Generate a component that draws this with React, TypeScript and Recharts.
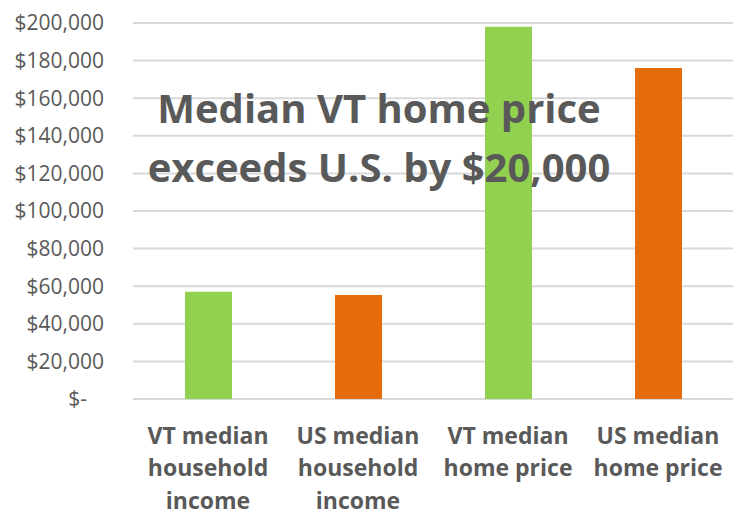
import { Bar, BarChart, CartesianGrid, Cell, XAxis, YAxis } from "recharts"

const categories = [
    "VT median household income",
    "US median household income",
    "VT median home price",
    "US median home price",
]

const categoryLines = [
    ["VT median", "household", "income"],
    ["US median", "household", "income"],
    ["VT median", "home price"],
    ["US median", "home price"],
]

const values = [56990, 55322, 198000, 176000]

const yTicks = [0, 20000, 40000, 60000, 80000, 100000, 120000, 140000, 160000, 180000, 200000]

const titleLines = ["Median VT home price", "exceeds U.S. by $20,000"]

const barColors = ["#92D050", "#E46C0A", "#92D050", "#E46C0A"]

const data = categories.map((name, i) => ({ name, value: values[i] }))

const textColor = "#595959"

function formatMoney(value: number) {
    if (value === 0) return "$-"
    return "$" + value.toLocaleString("en-US")
}

function YTick(props: any) {
    const { x, y, payload } = props
    const isZero = payload.value === 0
    return (
        <text
            x={isZero ? x - 17 : x}
            y={y}
            dy="0.355em"
            textAnchor="end"
            fill={textColor}
            fontFamily="'Open Sans', sans-serif"
            fontSize={21}
        >
            {formatMoney(payload.value)}
        </text>
    )
}

function XTick(props: any) {
    const { x, y, index } = props
    const lines = categoryLines[index] || []
    return (
        <text
            x={x}
            y={y}
            textAnchor="middle"
            fill={textColor}
            fontFamily="'Open Sans', sans-serif"
            fontWeight="bold"
            fontSize={23}
        >
            {lines.map((line, i) => (
                <tspan key={i} x={x} y={y + 36.5 + i * 32.5}>
                    {line}
                </tspan>
            ))}
        </text>
    )
}

export default function App() {
    return (
        <div style={{ position: "absolute", left: 0, top: 0, width: 733, height: 514, background: "#fff" }}>
            <BarChart
                width={733}
                height={514}
                data={data}
                margin={{ top: 23, right: 0, bottom: 0, left: 0 }}
            >
                <CartesianGrid vertical={false} stroke="#d9d9d9" strokeWidth={2} />
                <XAxis
                    dataKey="name"
                    axisLine={false}
                    tickLine={false}
                    interval={0}
                    height={115}
                    tick={<XTick />}
                />
                <YAxis
                    width={133}
                    domain={[0, 200000]}
                    ticks={yTicks}
                    axisLine={false}
                    tickLine={false}
                    tickMargin={23}
                    tick={<YTick />}
                />
                <Bar dataKey="value" barSize={47} isAnimationActive={false}>
                    {data.map((_, i) => (
                        <Cell key={i} fill={barColors[i]} />
                    ))}
                </Bar>
            </BarChart>
            {/* chart title overlays the bars, like the text box in the original */}
            <svg
                width={733}
                height={514}
                style={{ position: "absolute", left: 0, top: 0, pointerEvents: "none" }}
            >
                <text
                    textAnchor="middle"
                    fill={textColor}
                    fontFamily="'Open Sans', sans-serif"
                    fontWeight="bold"
                    fontSize={40}
                >
                    {titleLines.map((line, i) => (
                        <tspan key={i} x={379} y={123 + i * 59}>
                            {line}
                        </tspan>
                    ))}
                </text>
            </svg>
        </div>
    )
}
